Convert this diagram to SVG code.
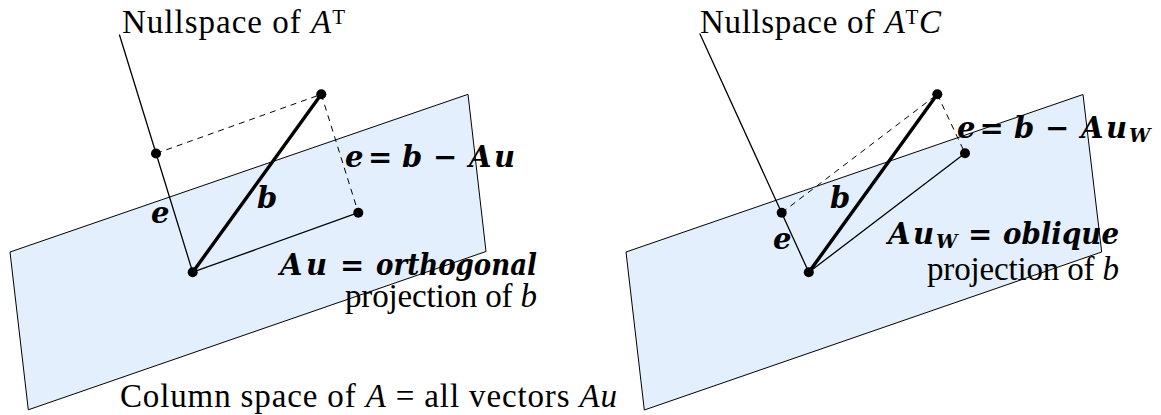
<svg xmlns="http://www.w3.org/2000/svg" width="1161" height="415" viewBox="0 0 1161 415">
<style>
.plane{fill:#e3effc;stroke:#000;stroke-width:1}
.thin{stroke:#000;stroke-width:1.3;fill:none;stroke-linecap:round}
.thick{stroke:#000;stroke-width:3.4;fill:none;stroke-linecap:round}
.dash{stroke:#000;stroke-width:1;fill:none;stroke-dasharray:6 5}
.dot{fill:#000}
.rm{font-family:"Liberation Serif","Times New Roman",serif;font-size:33px;fill:#000}
.bi{font-family:"DejaVu Serif","Liberation Serif",serif;font-size:29px;font-weight:bold;font-style:italic;fill:#000}
.it{font-style:italic}
.up{font-style:normal}
</style>
<rect width="1161" height="415" fill="#fff"/>
<g id="left-plane">
<polygon class="plane" points="10,252 468,94.3 486,251.5 28.3,409.8"/>
</g>
<g id="right-plane">
<polygon class="plane" points="626,252 1083,94.5 1101.7,252 644.3,410"/>
</g>
<g id="connectors">
<line class="thin" x1="119.5" y1="35" x2="192.7" y2="272.2"/>
<line class="dash" x1="156" y1="153.5" x2="321.3" y2="94.3"/>
<line class="dash" x1="321.3" y1="94.3" x2="358.3" y2="212.7"/>
<line class="thick" x1="192.7" y1="272.2" x2="321.3" y2="94.3"/>
<line class="thin" x1="192.7" y1="272.2" x2="358.3" y2="212.7"/>
<line class="thin" x1="700" y1="34" x2="808.8" y2="272.3"/>
<line class="dash" x1="781.7" y1="212.7" x2="937.3" y2="94.3"/>
<line class="dash" x1="937.3" y1="94.3" x2="965" y2="153.3"/>
<line class="thick" x1="808.8" y1="272.3" x2="937.3" y2="94.3"/>
<line class="thin" x1="808.8" y1="272.3" x2="965" y2="153.3"/>
</g>
<g id="left-points">
<circle class="dot" cx="192.7" cy="272.2" r="5"/>
<circle class="dot" cx="156" cy="153.5" r="5"/>
<circle class="dot" cx="321.3" cy="94.3" r="5"/>
<circle class="dot" cx="358.3" cy="212.7" r="5"/>
</g>
<g id="right-points">
<circle class="dot" cx="808.8" cy="272.3" r="5"/>
<circle class="dot" cx="781.7" cy="212.7" r="5"/>
<circle class="dot" cx="937.3" cy="94.3" r="5"/>
<circle class="dot" cx="965" cy="153.3" r="5"/>
</g>
<g id="left-labels">
<text class="rm" x="122" y="33" textLength="223">Nullspace of <tspan class="it">A</tspan><tspan dy="-9" font-size="21">T</tspan></text>
<text class="bi" x="151" y="223">e</text>
<text class="bi" x="257" y="207.5">b</text>
<text class="bi" y="167"><tspan x="345">e</tspan><tspan x="368" class="up">=</tspan><tspan x="402">b</tspan><tspan x="433" class="up">−</tspan><tspan x="469">A</tspan><tspan x="494">u</tspan></text>
<text class="bi" y="274.5"><tspan x="280">A</tspan><tspan x="306">u</tspan><tspan x="340" class="up">=</tspan><tspan x="376" textLength="161" lengthAdjust="spacingAndGlyphs">orthogonal</tspan></text>
<text class="rm" x="345" y="307" textLength="192">projection of <tspan class="it">b</tspan></text>
<text class="rm" x="120" y="406.5" textLength="497">Column space of <tspan class="it">A</tspan> = all vectors <tspan class="it">Au</tspan></text>
</g>
<g id="right-labels">
<text class="rm" x="700" y="33" textLength="241">Nullspace of <tspan class="it">A</tspan><tspan dy="-9" font-size="21">T</tspan><tspan dy="9" class="it">C</tspan></text>
<text class="bi" x="773" y="249">e</text>
<text class="bi" x="830" y="208">b</text>
<text class="bi" y="137.5"><tspan x="957">e</tspan><tspan x="979.5" class="up">=</tspan><tspan x="1014">b</tspan><tspan x="1045" class="up">−</tspan><tspan x="1081">A</tspan><tspan x="1106">u</tspan><tspan x="1129" dy="4" font-size="19">W</tspan></text>
<text class="bi" y="244"><tspan x="888">A</tspan><tspan x="913">u</tspan><tspan x="936" dy="4" font-size="19">W</tspan><tspan x="968" dy="-4" class="up">=</tspan><tspan x="1003" textLength="116" lengthAdjust="spacingAndGlyphs">oblique</tspan></text>
<text class="rm" x="927" y="280" textLength="192">projection of <tspan class="it">b</tspan></text>
</g>
</svg>
